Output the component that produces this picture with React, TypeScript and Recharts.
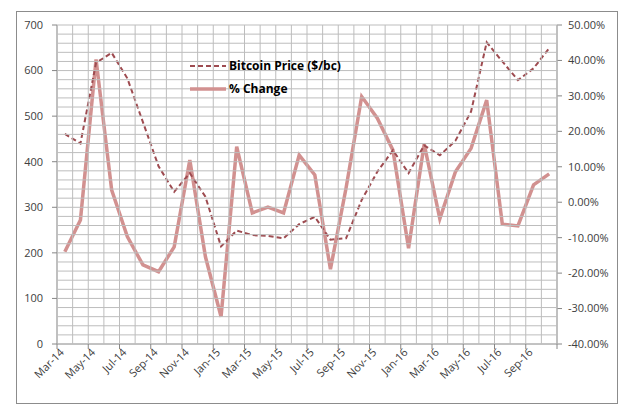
import { LineChart, Line, XAxis, YAxis, Legend } from 'recharts'

// monthly categories, Mar-14 .. Oct-16
const months = [
  'Mar-14', 'Apr-14', 'May-14', 'Jun-14', 'Jul-14', 'Aug-14', 'Sep-14', 'Oct-14',
  'Nov-14', 'Dec-14', 'Jan-15', 'Feb-15', 'Mar-15', 'Apr-15', 'May-15', 'Jun-15',
  'Jul-15', 'Aug-15', 'Sep-15', 'Oct-15', 'Nov-15', 'Dec-15', 'Jan-16', 'Feb-16',
  'Mar-16', 'Apr-16', 'May-16', 'Jun-16', 'Jul-16', 'Aug-16', 'Sep-16', 'Oct-16',
]

// Bitcoin price, $/bc
const price = [
  461, 440, 617, 639, 583, 487, 390, 334, 375, 323, 214, 249, 239, 237, 232, 263,
  279, 229, 232, 316, 378, 425, 375, 436, 414, 446, 510, 662, 620, 579, 605, 649,
]

// month-over-month change, %
const pctChange = [
  -14.0, -5.0, 40.3, 3.4, -9.7, -17.7, -19.6, -12.6, 11.9, -15.4, -32.3, 15.7, -3.0, -1.4, -3.0, 13.3,
  7.7, -18.9, 4.0, 29.8, 23.7, 14.7, -13.0, 16.4, -4.7, 8.6, 15.2, 28.8, -6.2, -6.7, 4.9, 8.0,
]

const pctTicks = [-40, -30, -20, -10, 0, 10, 20, 30, 40, 50]

const data = months.map((m, i) => ({
  x: i + 0.5,
  month: m,
  price: price[i],
  pct: pctChange[i],
}))

const PRICE_COLOR = '#9e4b50'
const PCT_COLOR = '#d29190'
const AXIS_COLOR = '#868686'
const GRID_COLOR = '#bdbdbd'
const FONT = '"Open Sans", "Liberation Sans", sans-serif'

// category boundaries (vertical grid) and price grid every 20
const boundaries = months.map((_, i) => i).concat(months.length)
const priceGrid = Array.from({ length: 36 }, (_, i) => i * 20)

const CHART_W = 634
const CHART_H = 412
const MARGIN = { top: 25, right: 0, bottom: 0, left: 0 }
const LEFT_W = 57
const RIGHT_W = 77
const X_H = 68
const PLOT_W = CHART_W - LEFT_W - RIGHT_W
const PLOT_H = CHART_H - MARGIN.top - X_H
const HALF_CAT = PLOT_W / months.length / 2

// x ticks sit on every category boundary: grid line, tick mark every 2nd, label centred in category
function XTick(props: any) {
  const { x, y, payload } = props
  const v = payload.value
  const major = v % 2 === 0
  const label = major ? months[v] : undefined
  const tx = x + HALF_CAT
  const ty = y + 9
  return (
    <g>
      <line x1={x} y1={y} x2={x} y2={y - PLOT_H} stroke={GRID_COLOR} strokeWidth={1} />
      {major && <line x1={x} y1={y} x2={x} y2={y + 5} stroke={AXIS_COLOR} strokeWidth={1} />}
      {label && (
        <text
          x={tx}
          y={ty}
          transform={`rotate(-45 ${tx} ${ty})`}
          textAnchor="end"
          fontSize={11}
          fontFamily={FONT}
          fill="#404040"
        >
          {label}
        </text>
      )}
    </g>
  )
}

// left ticks every 20: grid line, tick mark and label every 100
function YTick(props: any) {
  const { x, y, payload } = props
  const v = payload.value
  const major = v % 100 === 0
  return (
    <g>
      {v > 0 && <line x1={x} y1={y} x2={x + PLOT_W} y2={y} stroke={GRID_COLOR} strokeWidth={1} />}
      {major && <line x1={x - 5} y1={y} x2={x} y2={y} stroke={AXIS_COLOR} strokeWidth={1} />}
      {major && (
        <text x={x - 14} y={y} dy="0.355em" textAnchor="end" fontSize={11} fontFamily={FONT} fill="#404040">
          {v}
        </text>
      )}
    </g>
  )
}

function LegendBox() {
  const rows = [
    { name: 'Bitcoin Price ($/bc)', color: PRICE_COLOR, width: 2, dash: '5 3' },
    { name: '% Change', color: PCT_COLOR, width: 3.5, dash: undefined },
  ]
  return (
    <div style={{ fontFamily: FONT, fontWeight: 700, fontSize: 12, color: '#000' }}>
      {rows.map((r) => (
        <div key={r.name} style={{ display: 'flex', alignItems: 'center', height: 23 }}>
          <svg width={38} height={10} style={{ marginRight: 2 }}>
            <line x1={1} y1={5} x2={37} y2={5} stroke={r.color} strokeWidth={r.width} strokeDasharray={r.dash} />
          </svg>
          <span>{r.name}</span>
        </div>
      ))}
    </div>
  )
}

export default function App() {
  return (
    <div style={{ position: 'absolute', left: 0, top: 0, width: CHART_W, height: CHART_H, background: '#fff' }}>
      <div
        style={{
          position: 'absolute',
          left: 16,
          top: 11,
          width: 600,
          height: 391,
          border: '1px solid #8c8c8c',
        }}
      />
      <LineChart
        width={CHART_W}
        height={CHART_H}
        data={data}
        margin={MARGIN}
        style={{ position: 'absolute', left: 0, top: 0 }}
      >
        <XAxis
          xAxisId="main"
          type="number"
          dataKey="x"
          domain={[0, months.length]}
          ticks={boundaries}
          interval={0}
          height={X_H}
          stroke={AXIS_COLOR}
          tickLine={false}
          tickSize={0}
          tickMargin={0}
          tick={<XTick />}
        />
        <YAxis
          yAxisId="left"
          domain={[0, 700]}
          ticks={priceGrid}
          interval={0}
          width={LEFT_W}
          stroke={AXIS_COLOR}
          tickLine={false}
          tickSize={0}
          tickMargin={0}
          tick={<YTick />}
        />
        <YAxis
          yAxisId="right"
          orientation="right"
          domain={[-40, 50]}
          ticks={pctTicks}
          width={RIGHT_W}
          stroke={AXIS_COLOR}
          tickSize={5}
          tickMargin={6}
          tickFormatter={(v: number) => `${v.toFixed(2)}%`}
          tick={{ fontSize: 11, fontFamily: FONT, fill: '#404040' }}
        />
        <Line
          xAxisId="main"
          yAxisId="right"
          dataKey="pct"
          name="% Change"
          stroke={PCT_COLOR}
          strokeWidth={3.5}
          dot={false}
          isAnimationActive={false}
        />
        <Line
          xAxisId="main"
          yAxisId="left"
          dataKey="price"
          name="Bitcoin Price ($/bc)"
          stroke={PRICE_COLOR}
          strokeWidth={2}
          strokeDasharray="5 3"
          dot={false}
          isAnimationActive={false}
        />
        <Legend
          layout="vertical"
          align="center"
          verticalAlign="middle"
          content={<LegendBox />}
          wrapperStyle={{ top: 54, left: 189, width: 170, bottom: 'auto', right: 'auto' }}
        />
      </LineChart>
    </div>
  )
}
